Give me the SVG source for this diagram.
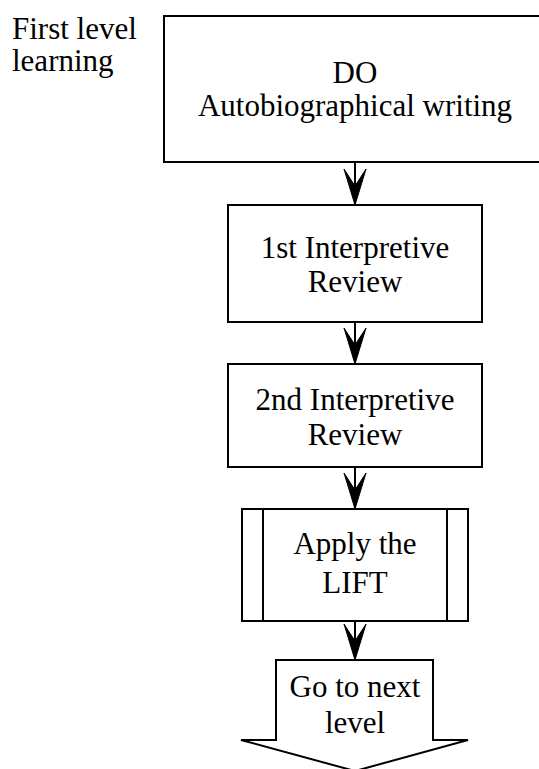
<svg xmlns="http://www.w3.org/2000/svg" width="539" height="769" viewBox="0 0 539 769">
<style>
.box{fill:#fff;stroke:#000;stroke-width:2}
.ln{fill:none;stroke:#000;stroke-width:2}
.t{font-family:"Liberation Serif","Times New Roman",serif;font-size:31px;fill:#000;text-anchor:middle}
.tl{font-family:"Liberation Serif","Times New Roman",serif;font-size:31px;fill:#000}
</style>
<defs>
<marker id="ah" viewBox="0 0 38 24" refX="37" refY="12" markerWidth="38" markerHeight="24" markerUnits="userSpaceOnUse" orient="auto">
<path d="M37,12 L1,1 L18,12 L1,23 Z" fill="#000" stroke="#000" stroke-width="1"/>
</marker>
</defs>
<rect width="539" height="769" fill="#fff"/>
<g id="label-first-level">
<text class="tl" x="12" y="39">First level</text>
<text class="tl" x="12" y="71">learning</text>
</g>
<g id="connectors">
<line class="ln" x1="355" y1="162" x2="355" y2="205" marker-end="url(#ah)"/>
<line class="ln" x1="355" y1="322" x2="355" y2="364" marker-end="url(#ah)"/>
<line class="ln" x1="355" y1="467" x2="355" y2="509" marker-end="url(#ah)"/>
<line class="ln" x1="355" y1="621" x2="355" y2="660" marker-end="url(#ah)"/>
</g>
<g id="node-do">
<rect class="box" x="164" y="16" width="382" height="146"/>
<text class="t" x="355" y="83">DO</text>
<text class="t" x="355" y="116">Autobiographical writing</text>
</g>
<g id="node-review1">
<rect class="box" x="228" y="205" width="254" height="117"/>
<text class="t" x="355" y="258">1st Interpretive</text>
<text class="t" x="355" y="292">Review</text>
</g>
<g id="node-review2">
<rect class="box" x="228" y="364" width="254" height="103"/>
<text class="t" x="355" y="410">2nd Interpretive</text>
<text class="t" x="355" y="445">Review</text>
</g>
<g id="node-lift">
<rect class="box" x="242" y="509" width="226" height="112"/>
<line class="ln" x1="263" y1="509" x2="263" y2="621"/>
<line class="ln" x1="447" y1="509" x2="447" y2="621"/>
<text class="t" x="355" y="554">Apply the</text>
<text class="t" x="355" y="593">LIFT</text>
</g>
<g id="node-next">
<path class="box" d="M276,660 L433,660 L433,740 L468,740 L355,771 L241,740 L276,740 Z"/>
<text class="t" x="355" y="697">Go to next</text>
<text class="t" x="355" y="733">level</text>
</g>
</svg>
